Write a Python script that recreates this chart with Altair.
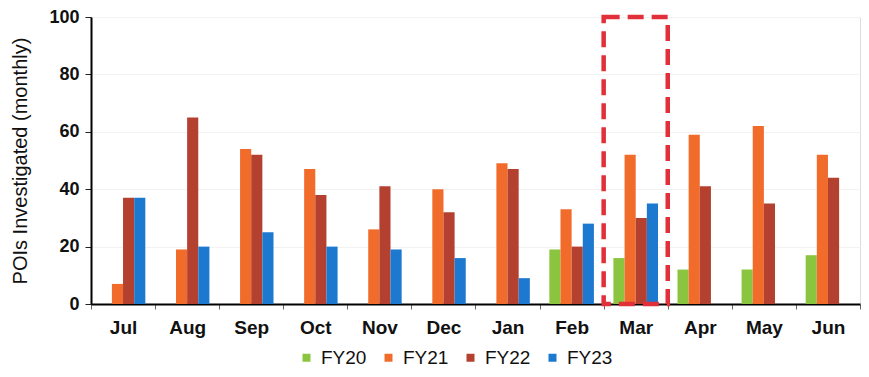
import altair as alt
import pandas as pd

months = ["Jul", "Aug", "Sep", "Oct", "Nov", "Dec", "Jan", "Feb", "Mar", "Apr", "May", "Jun"]
series = ["FY20", "FY21", "FY22", "FY23"]
fy20 = [None, None, None, None, None, None, None, 19, 16, 12, 12, 17]
fy21 = [7, 19, 54, 47, 26, 40, 49, 33, 52, 59, 62, 52]
fy22 = [37, 65, 52, 38, 41, 32, 47, 20, 30, 41, 35, 44]
fy23 = [37, 20, 25, 20, 19, 16, 9, 28, 35, None, None, None]
colors = ["#8bc53f", "#f16c2b", "#b4402f", "#1d79cf"]
highlight_month = "Mar"

rows = []
for name, vals in zip(series, [fy20, fy21, fy22, fy23]):
    for m, v in zip(months, vals):
        if v is not None:
            rows.append({"month": m, "series": name, "value": v})
df = pd.DataFrame(rows)

W, H = 769, 287
FONT = "Liberation Sans"

xscale = alt.Scale(domain=months, paddingInner=0, paddingOuter=0)

bars = alt.Chart(df).mark_bar().encode(
    x=alt.X("month:N", scale=xscale, sort=months, title=None,
            axis=alt.Axis(labelAngle=0, tickBand="extent", labelFontSize=19,
                          labelFontWeight="bold", labelColor="#111", tickColor="#666",
                          tickSize=5, labelPadding=9, domainColor="black", domainWidth=2)),
    xOffset=alt.XOffset("series:N", sort=series,
                        scale=alt.Scale(domain=series, paddingInner=0, paddingOuter=0.875)),
    y=alt.Y("value:Q", scale=alt.Scale(domain=[0, 100], nice=False),
            title="POIs Investigated (monthly)",
            axis=alt.Axis(values=[0, 20, 40, 60, 80, 100], labelFontSize=18,
                          labelFontWeight="bold", labelColor="#111", labelPadding=6,
                          titleFontSize=20, titleFontWeight="normal", titleColor="#111",
                          titlePadding=18, tickSize=6, tickColor="#222",
                          domainColor="black", domainWidth=2,
                          grid=True, gridColor="#f2f2f2")),
    color=alt.Color("series:N", sort=series,
                    scale=alt.Scale(domain=series, range=colors),
                    legend=alt.Legend(title=None, orient="none", direction="horizontal",
                                      legendX=206, legendY=331, padding=0,
                                      symbolType="square", symbolSize=64,
                                      symbolStrokeWidth=0, labelFontSize=19,
                                      labelColor="#111", labelOffset=5,
                                      columnPadding=12)),
)

box = alt.Chart(pd.DataFrame({"month": [highlight_month]})).mark_rect(
    filled=False, stroke="#e2303b", strokeWidth=4.5, strokeDash=[16, 8]
).encode(
    x=alt.X("month:N", scale=xscale, sort=months),
    y=alt.datum(0),
    y2=alt.datum(100),
)

chart = alt.layer(bars, box).properties(
    width=W, height=H,
    padding={"left": 83, "top": 9, "right": 1, "bottom": 65},
    autosize=alt.AutoSizeParams(type="none"),
).configure_view(
    stroke="black", strokeWidth=2
).configure(
    font=FONT
).configure_axis(
    labelFont=FONT, titleFont=FONT
).configure_legend(
    labelFont=FONT
)

chart.save("out.html", embed_options={"renderer": "svg", "actions": False})
